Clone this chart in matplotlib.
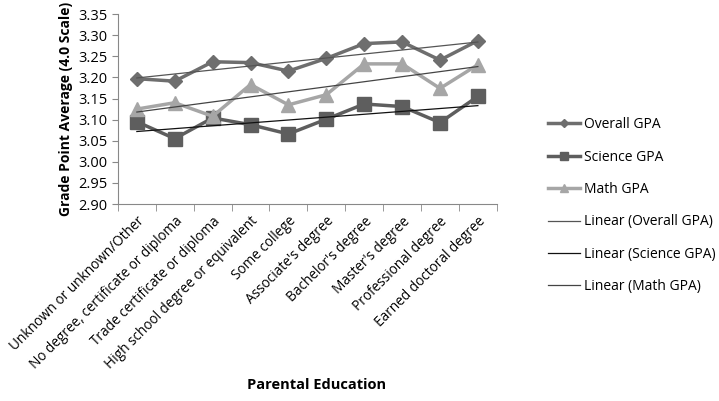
import numpy as np
import matplotlib.pyplot as plt
from matplotlib.ticker import FixedLocator, NullFormatter

plt.rcParams['font.family'] = ['Open Sans', 'DejaVu Sans']

categories = ["Unknown or unknown/Other", "No degree, certificate or diploma",
              "Trade certificate or diploma", "High school degree or equivalent",
              "Some college", "Associate's degree", "Bachelor's degree",
              "Master's degree", "Professional degree", "Earned doctoral degree"]
overall = [3.197, 3.191, 3.237, 3.235, 3.215, 3.245, 3.280, 3.284, 3.241, 3.287]
science = [3.095, 3.055, 3.104, 3.088, 3.066, 3.101, 3.137, 3.131, 3.093, 3.155]
math = [3.125, 3.140, 3.108, 3.183, 3.135, 3.159, 3.232, 3.232, 3.174, 3.230]

x = np.arange(1, len(categories) + 1)

fig = plt.figure(figsize=(7.19, 4.01), dpi=100)
ax = fig.add_axes([0.164, 0.491, 0.527, 0.474])

ax.plot(x, overall, color='#6e6e6e', lw=2.5, marker='D', ms=7, label='Overall GPA')
ax.plot(x, science, color='#5e5e5e', lw=2.5, marker='s', ms=10, label='Science GPA')
ax.plot(x, math, color='#a6a6a6', lw=2.5, marker='^', ms=10, label='Math GPA')

# linear trend lines (least-squares fit of each series)
trend_styles = [(overall, '#555555', 'Linear (Overall GPA)'),
                (science, '#111111', 'Linear (Science GPA)'),
                (math, '#444444', 'Linear (Math GPA)')]
for vals, c, lab in trend_styles:
    k, b = np.polyfit(x, vals, 1)
    ax.plot(x, k * x + b, color=c, lw=0.9, label=lab)

ax.set_xlim(0.5, len(categories) + 0.5)
ax.set_ylim(2.90, 3.35)
ax.set_yticks(np.arange(2.90, 3.351, 0.05))
ax.set_yticklabels([f'{v:.2f}' for v in np.arange(2.90, 3.351, 0.05)], fontsize=10.5)

ax.set_xticks(x)
ax.set_xticklabels(categories, rotation=45, ha='right', rotation_mode='anchor', fontsize=9.8)
ax.tick_params(axis='x', length=0, pad=7)
ax.xaxis.set_minor_locator(FixedLocator(np.arange(0.5, len(categories) + 1, 1)))
ax.xaxis.set_minor_formatter(NullFormatter())
ax.tick_params(axis='x', which='minor', length=5, color='#888888')
ax.tick_params(axis='y', length=4, color='#888888')

for s in ['top', 'right']:
    ax.spines[s].set_visible(False)
for s in ['left', 'bottom']:
    ax.spines[s].set_color('#888888')

ax.set_ylabel('Grade Point Average (4.0 Scale)', fontsize=10, fontweight='bold')
fig.text(0.44, 0.03, 'Parental Education', fontsize=10.5, fontweight='bold', ha='center')

fig.legend(loc='center left', bbox_to_anchor=(0.745, 0.487), frameon=False,
           fontsize=10, handlelength=2.3, labelspacing=1.25, handletextpad=0.3,
           markerscale=0.6)

fig.savefig('out.png', dpi=100)
